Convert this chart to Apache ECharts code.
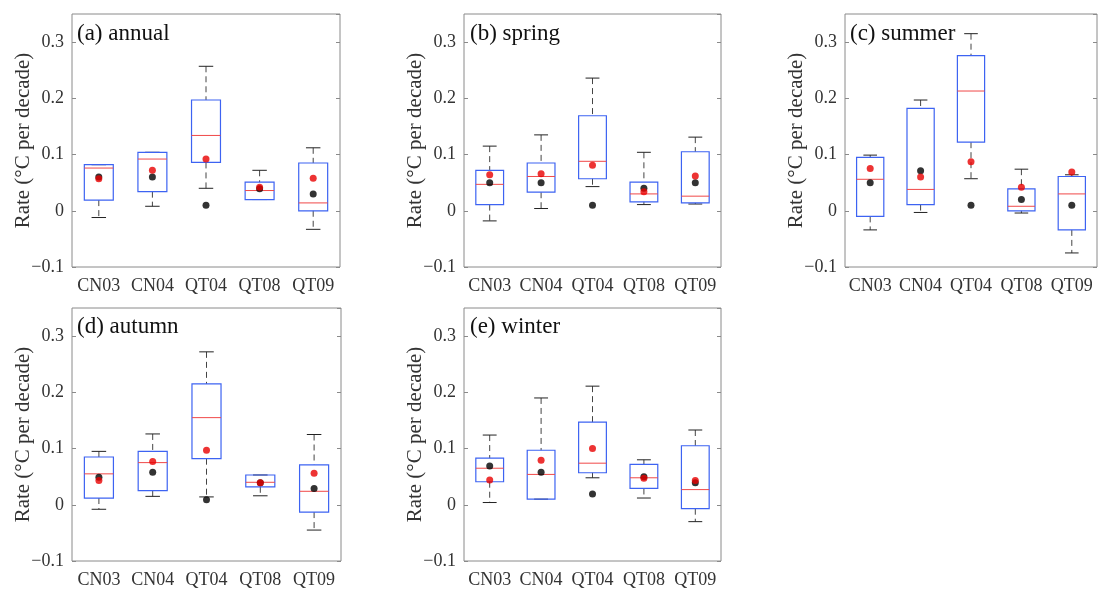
<!DOCTYPE html>
<html>
<head>
<meta charset="utf-8">
<script src="https://cdn.jsdelivr.net/npm/echarts@6/dist/echarts.min.js"></script>
<style>
  html, body { margin: 0; padding: 0; background: #fff; }
  #main { width: 1099px; height: 589px; }
</style>
</head>
<body>
<div id="main"></div>
<script>
// stations on the x axis
const stations = ['CN03', 'CN04', 'QT04', 'QT08', 'QT09'];
const panelTitles = ['(a) annual', '(b) spring', '(c) summer', '(d) autumn', '(e) winter'];
const yTicks = [-0.1, 0, 0.1, 0.2, 0.3];

// box stats per station: [lower whisker, Q1, median, Q3, upper whisker]
const annualBox = [
  [-0.012, 0.019, 0.076, 0.082, 0.082],
  [0.008, 0.034, 0.092, 0.104, 0.104],
  [0.040, 0.086, 0.134, 0.197, 0.257],
  [0.020, 0.020, 0.036, 0.051, 0.072],
  [-0.033, 0.000, 0.014, 0.085, 0.112]
];
const springBox = [
  [-0.018, 0.011, 0.047, 0.072, 0.115],
  [0.004, 0.033, 0.061, 0.085, 0.135],
  [0.043, 0.057, 0.088, 0.169, 0.236],
  [0.011, 0.016, 0.030, 0.051, 0.104],
  [0.012, 0.014, 0.026, 0.105, 0.131]
];
const summerBox = [
  [-0.034, -0.010, 0.056, 0.095, 0.099],
  [-0.003, 0.011, 0.038, 0.182, 0.197],
  [0.057, 0.122, 0.213, 0.276, 0.315],
  [-0.004, 0.000, 0.008, 0.039, 0.074],
  [-0.075, -0.034, 0.030, 0.061, 0.064]
];
const autumnBox = [
  [-0.008, 0.012, 0.055, 0.085, 0.095],
  [0.015, 0.025, 0.075, 0.095, 0.126],
  [0.014, 0.082, 0.155, 0.215, 0.272],
  [0.016, 0.032, 0.040, 0.053, 0.053],
  [-0.045, -0.013, 0.024, 0.071, 0.125]
];
const winterBox = [
  [0.004, 0.041, 0.065, 0.083, 0.124],
  [0.010, 0.010, 0.054, 0.097, 0.190],
  [0.048, 0.057, 0.074, 0.147, 0.211],
  [0.012, 0.029, 0.048, 0.072, 0.080],
  [-0.030, -0.007, 0.027, 0.105, 0.133]
];

// black dots and red dots per station
const annualBlack = [0.060, 0.060, 0.010, 0.039, 0.030];
const annualRed   = [0.057, 0.072, 0.092, 0.042, 0.058];
const springBlack = [0.050, 0.050, 0.010, 0.040, 0.050];
const springRed   = [0.064, 0.066, 0.081, 0.034, 0.062];
const summerBlack = [0.050, 0.071, 0.010, 0.020, 0.010];
const summerRed   = [0.075, 0.060, 0.087, 0.042, 0.069];
const autumnBlack = [0.049, 0.058, 0.009, 0.039, 0.029];
const autumnRed   = [0.043, 0.077, 0.097, 0.039, 0.056];
const winterBlack = [0.069, 0.058, 0.019, 0.050, 0.039];
const winterRed   = [0.044, 0.079, 0.100, 0.047, 0.043];

const boxes = [annualBox, springBox, summerBox, autumnBox, winterBox];
const blacks = [annualBlack, springBlack, summerBlack, autumnBlack, winterBlack];
const reds = [annualRed, springRed, summerRed, autumnRed, winterRed];

const grids = [
  { left: 72, top: 14, width: 268, height: 253 },
  { left: 464, top: 14, width: 257, height: 253 },
  { left: 845, top: 14, width: 252, height: 253 },
  { left: 72, top: 308, width: 269, height: 255 },
  { left: 464, top: 308, width: 257, height: 255 }
];

const font = '"Liberation Serif", "DejaVu Serif", serif';
const textColor = '#333';
const frameColor = '#8a8a8a';

function tickFmt(v) {
  const r = Math.round(v * 10) / 10;
  if (r === 0) return '0';
  return r < 0 ? '\u2212' + (-r).toFixed(1) : r.toFixed(1);
}

function renderBox(params, api) {
  const x = api.value(0);
  const low = api.coord([x, api.value(1)]);
  const q1 = api.coord([x, api.value(2)]);
  const med = api.coord([x, api.value(3)]);
  const q3 = api.coord([x, api.value(4)]);
  const high = api.coord([x, api.value(5)]);
  const bw = api.size([1, 0])[0] * 0.54;
  const cx = low[0];
  const whisk = { stroke: '#444', lineWidth: 1, lineDash: [6, 4] };
  const cap = { stroke: '#222', lineWidth: 1 };
  return {
    type: 'group',
    children: [
      { type: 'line', shape: { x1: cx, y1: high[1], x2: cx, y2: q3[1] }, style: whisk },
      { type: 'line', shape: { x1: cx, y1: q1[1], x2: cx, y2: low[1] }, style: whisk },
      { type: 'line', shape: { x1: cx - bw / 4, y1: high[1], x2: cx + bw / 4, y2: high[1] }, style: cap },
      { type: 'line', shape: { x1: cx - bw / 4, y1: low[1], x2: cx + bw / 4, y2: low[1] }, style: cap },
      { type: 'rect', shape: { x: cx - bw / 2, y: q3[1], width: bw, height: q1[1] - q3[1] },
        style: { fill: 'none', stroke: '#3d63f2', lineWidth: 1.2 } },
      { type: 'line', shape: { x1: cx - bw / 2, y1: med[1], x2: cx + bw / 2, y2: med[1] },
        style: { stroke: '#f04848', lineWidth: 1 } }
    ]
  };
}

const titles = [], xAxes = [], yAxes = [], series = [];
const titlePos = [[77, 22], [470, 22], [850, 22], [77, 315], [470, 315]];

boxes.forEach((box, i) => {
  titles.push({
    text: panelTitles[i], left: titlePos[i][0], top: titlePos[i][1], padding: 0,
    textStyle: { fontFamily: font, fontSize: 23, fontWeight: 'normal', color: '#111' }
  });
  xAxes.push({
    type: 'category', gridIndex: i, data: stations, boundaryGap: true,
    axisLine: { show: false },
    axisTick: { show: false },
    axisLabel: { fontFamily: font, fontSize: 18, color: textColor, margin: 10, interval: 0 }
  });
  yAxes.push({
    type: 'value', gridIndex: i, min: -0.1, max: 0.35, interval: 0.1,
    name: 'Rate (\u00B0C per decade)', nameLocation: 'middle', nameRotate: 90, nameGap: 38,
    nameMoveOverlap: false,
    nameTextStyle: { fontFamily: font, fontSize: 21, color: textColor },
    axisLine: { show: false },
    axisTick: { show: true, inside: true, length: 4, lineStyle: { color: frameColor } },
    splitLine: { show: false },
    axisLabel: { fontFamily: font, fontSize: 18, color: textColor, margin: 8,
      showMaxLabel: false, formatter: tickFmt }
  });
  yAxes.push({
    type: 'value', gridIndex: i, position: 'right', min: -0.1, max: 0.35, interval: 0.1,
    axisLine: { show: false },
    axisTick: { show: true, inside: true, length: 4, lineStyle: { color: frameColor } },
    splitLine: { show: false },
    axisLabel: { show: false }
  });
  series.push({
    type: 'custom', xAxisIndex: i, yAxisIndex: 2 * i,
    renderItem: renderBox,
    encode: { x: 0, y: [1, 2, 3, 4, 5] },
    data: box.map((b, k) => [k].concat(b)),
    z: 2, silent: true
  });
  series.push({
    type: 'scatter', xAxisIndex: i, yAxisIndex: 2 * i,
    data: blacks[i].map((v, k) => [k, v]),
    symbolSize: 7, itemStyle: { color: '#000' }, z: 3, silent: true
  });
  series.push({
    type: 'scatter', xAxisIndex: i, yAxisIndex: 2 * i,
    data: reds[i].map((v, k) => [k, v]),
    symbolSize: 7, itemStyle: { color: '#e80000' }, z: 4, silent: true
  });
});

const chart = echarts.init(document.getElementById('main'), null, { renderer: 'canvas' });
chart.setOption({
  backgroundColor: '#fff',
  animation: false,
  title: titles,
  grid: grids.map(g => Object.assign({ show: true, borderColor: frameColor, borderWidth: 1 }, g)),
  xAxis: xAxes,
  yAxis: yAxes,
  series: series
});
</script>
</body>
</html>
